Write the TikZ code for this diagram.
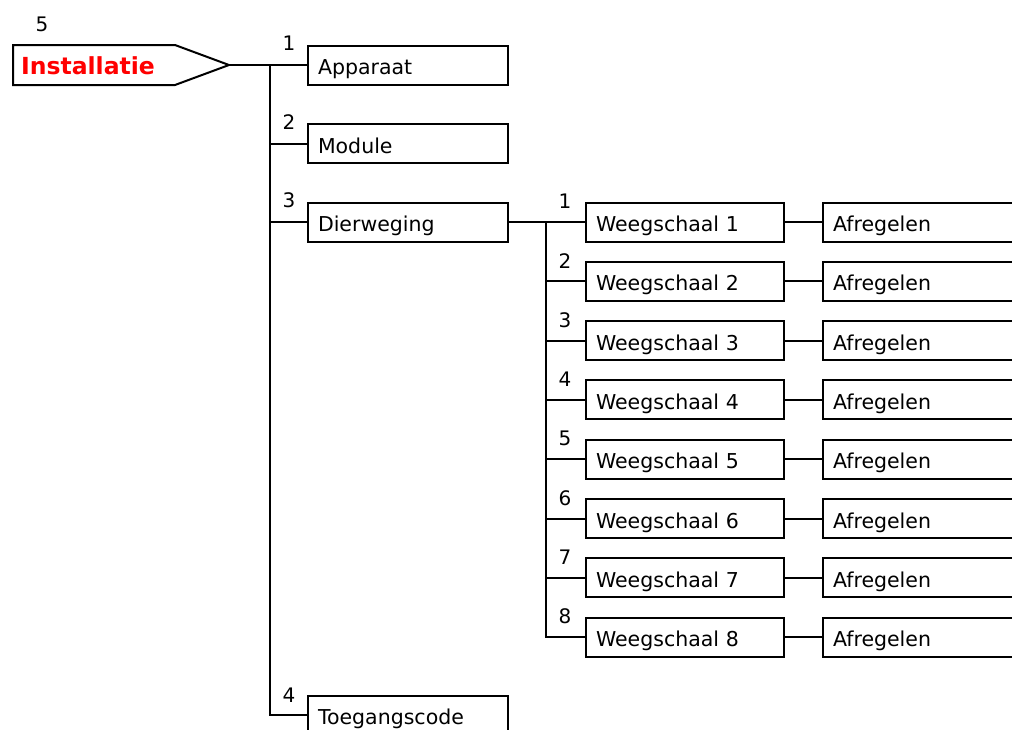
\documentclass[tikz,border=0pt]{standalone}
\usepackage{fontspec}
\setmainfont{DejaVu Sans}
\begin{document}
\begin{tikzpicture}[x=1pt,y=-1pt, line width=2pt,
  box/.style={draw, rectangle, anchor=west, inner xsep=10pt, inner ysep=0pt, align=left,
    text height=19pt, text depth=0pt,
    minimum height=39pt, font=\fontsize{20.5}{24}\selectfont},
  num/.style={font=\fontsize{20}{24}\selectfont, inner sep=0pt},
  conn/.style={line width=2pt}]
\useasboundingbox (0,0) rectangle (1012,729);
\clip (0,0) rectangle (1012,729);
% root
\draw (13,45) -- (175,45) -- (229,65) -- (175,85) -- (13,85) -- cycle;
\coordinate (insttip) at (229,65);
\node[font=\fontsize{23.5}{28}\selectfont\bfseries, text=red, inner sep=0pt] (inst) at (88,66) {Installatie};
\node[num] (n5) at (42,24) {5};
% level 1
\node[box, text width=180pt] (app) at (307,65) {Apparaat};
\node[box, text width=180pt] (mod) at (307,143.5) {Module};
\node[box, text width=180pt] (dier) at (307,222) {Dierweging};
\node[box, text width=180pt] (toeg) at (307,715) {Toegangscode};
\node[num] (l1) at ([xshift=-18pt,yshift=1pt]app.north west) {1};
\node[num] (l2) at ([xshift=-18pt,yshift=1pt]mod.north west) {2};
\node[num] (l3) at ([xshift=-18pt,yshift=1pt]dier.north west) {3};
\node[num] (l4) at ([xshift=-18pt,yshift=-1pt]toeg.north west) {4};
\coordinate (trunk) at (270,65);
\draw[conn] (insttip) -- (app.west);
\draw[conn] (trunk) |- (toeg.west);
\draw[conn] (trunk|-mod.west) -- (mod.west);
\draw[conn] (trunk|-dier.west) -- (dier.west);
% level 2
\coordinate (trunkb) at (546,222);
\foreach \i in {1,...,8}{
  \node[box, text width=178pt] (w\i) at (585,{222+(\i-1)*59.3}) {Weegschaal \i};
  \node[box, text width=180pt] (a\i) at (822,{222+(\i-1)*59.3}) {Afregelen};
  \node[num] (m\i) at ([xshift=-20pt,yshift=0pt]w\i.north west) {\i};
  \draw[conn] (trunkb|-w\i.west) -- (w\i.west);
  \draw[conn] (w\i.east) -- (a\i.west);
}
\draw[conn] (dier.east) -- (trunkb) |- (w8.west);
\end{tikzpicture}
\end{document}
